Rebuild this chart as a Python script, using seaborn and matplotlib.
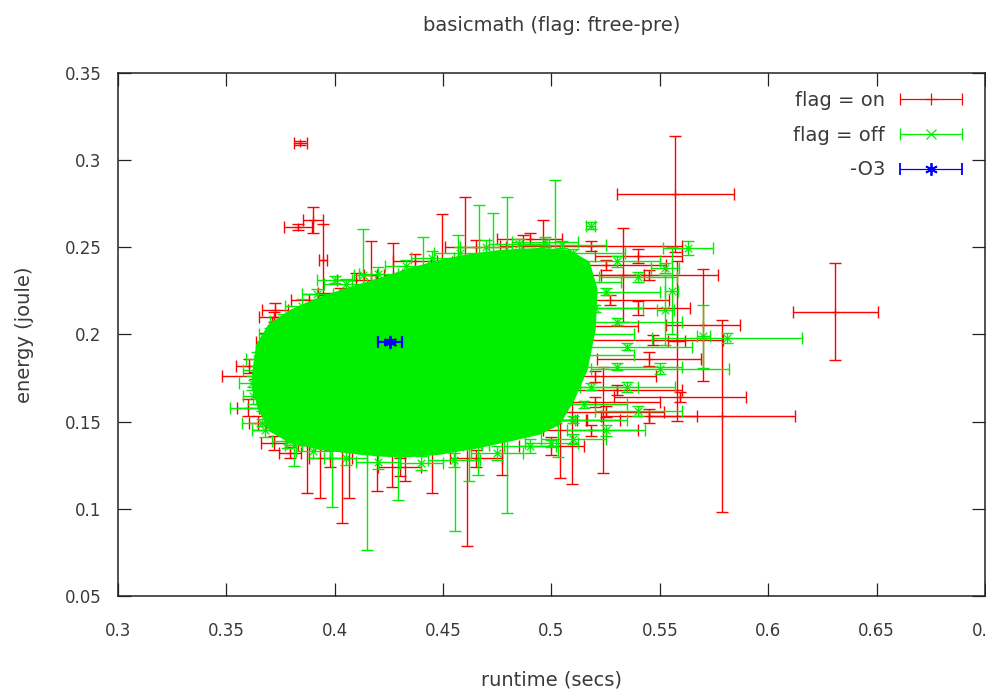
import numpy as np
import pandas as pd
import matplotlib
matplotlib.use("Agg")
import matplotlib.pyplot as plt
import seaborn as sns
from matplotlib.container import ErrorbarContainer
from matplotlib.legend_handler import HandlerErrorbar

# ---------------- data ----------------
title = "basicmath (flag: ftree-pre)"
x_label = "runtime (secs)"
y_label = "energy (joule)"
x_ticks = [0.3, 0.35, 0.4, 0.45, 0.5, 0.55, 0.6, 0.65, 0.7]
x_tick_labels = ["0.3", "0.35", "0.4", "0.45", "0.5", "0.55", "0.6", "0.65", "0.7"]
y_ticks = [0.05, 0.1, 0.15, 0.2, 0.25, 0.3, 0.35]
y_tick_labels = ["0.05", "0.1", "0.15", "0.2", "0.25", "0.3", "0.35"]
series_labels = ["flag = on", "flag = off", "-O3"]

# outline of the dense, fully overlapping cloud of error bars (flag = off on top)
core_runtime = [0.3618, 0.3637, 0.3692, 0.3793, 0.3932, 0.4070, 0.4208, 0.4347,
                0.4485, 0.4624, 0.4762, 0.4947, 0.5084, 0.5176, 0.5213, 0.5204,
                0.5167, 0.5107, 0.5039, 0.4947, 0.4808, 0.4670, 0.4485, 0.4301,
                0.4116, 0.3932, 0.3793, 0.3701, 0.3646, 0.3623]
core_energy = [0.1768, 0.1940, 0.2055, 0.2141, 0.2216, 0.2273, 0.2325, 0.2382,
               0.2428, 0.2462, 0.2485, 0.2497, 0.2485, 0.2417, 0.2257, 0.2027,
               0.1798, 0.1626, 0.1483, 0.1426, 0.1386, 0.1350, 0.1310, 0.1292,
               0.1310, 0.1338, 0.1378, 0.1442, 0.1568, 0.1682]

# flag = on (visible fringe points)
on_runtime = [0.3840, 0.3900, 0.3830, 0.3946, 0.5572, 0.6310, 0.5786, 0.5698,
              0.5450, 0.5184, 0.5592, 0.5470, 0.5578, 0.5300, 0.5250, 0.5200,
              0.5250, 0.5270, 0.4167, 0.4268, 0.4494, 0.4600, 0.4867, 0.4959,
              0.5328, 0.3871, 0.3931, 0.4033, 0.4065, 0.4194, 0.4263, 0.4323,
              0.4448, 0.4610, 0.4771, 0.5039, 0.5094, 0.5237, 0.3632, 0.3839,
              0.3678, 0.3664, 0.3645, 0.3793, 0.4024, 0.3724, 0.5200, 0.5150,
              0.5180,
              0.3720, 0.3880, 0.4100, 0.4370, 0.4650, 0.4900, 0.5400, 0.3600,
              0.3605, 0.3720, 0.3980, 0.4300, 0.4650, 0.5000, 0.5450, 0.5450,
              0.5400]
on_energy = [0.3100, 0.2655, 0.2617, 0.2430, 0.2806, 0.2130, 0.1533, 0.2055,
             0.2342, 0.2509, 0.1642, 0.1968, 0.1964, 0.1683, 0.1557, 0.1614,
             0.2400, 0.2199, 0.2342, 0.2342, 0.2400, 0.2417, 0.2417, 0.2417,
             0.2342, 0.1368, 0.1368, 0.1368, 0.1368, 0.1368, 0.1368, 0.1368,
             0.1368, 0.1397, 0.1454, 0.1512, 0.1512, 0.1512, 0.1764, 0.2068,
             0.1959, 0.1666, 0.1495, 0.1322, 0.2239, 0.2142, 0.1760, 0.2050,
             0.1450,
             0.2100, 0.2200, 0.2310, 0.2420, 0.2500, 0.2545, 0.2450, 0.1580,
             0.1820, 0.1380, 0.1290, 0.1240, 0.1290, 0.1360, 0.1530, 0.1860,
             0.2150]
on_runtime_err = [0.0030, 0.0045, 0.0065, 0.0020, 0.0270, 0.0196, 0.0337, 0.0170,
                  0.0320, 0.0420, 0.0304, 0.0320, 0.0040, 0.0300, 0.0270, 0.0300,
                  0.0280, 0.0270, 0.0030, 0.0040, 0.0050, 0.0060, 0.0050, 0.0060,
                  0.0100, 0.0040, 0.0050, 0.0040, 0.0060, 0.0040, 0.0050, 0.0040,
                  0.0060, 0.0050, 0.0060, 0.0080, 0.0070, 0.0080, 0.0152, 0.0130,
                  0.0040, 0.0030, 0.0040, 0.0050, 0.0100, 0.0060, 0.0280, 0.0250,
                  0.0220,
                  0.0070, 0.0080, 0.0090, 0.0100, 0.0140, 0.0150, 0.0200, 0.0050,
                  0.0060, 0.0060, 0.0100, 0.0100, 0.0120, 0.0150, 0.0220, 0.0240,
                  0.0240]
on_energy_err = [0.0012, 0.0075, 0.0015, 0.0205, 0.0333, 0.0278, 0.0550, 0.0320,
                 0.0030, 0.0030, 0.0030, 0.0030, 0.0460, 0.0030, 0.0030, 0.0030,
                 0.0030, 0.0030, 0.0195, 0.0180, 0.0290, 0.0370, 0.0155, 0.0240,
                 0.0270, 0.0275, 0.0304, 0.0447, 0.0304, 0.0264, 0.0241, 0.0206,
                 0.0275, 0.0613, 0.0258, 0.0338, 0.0372, 0.0304, 0.0020, 0.0020,
                 0.0050, 0.0060, 0.0040, 0.0030, 0.0030, 0.0040, 0.0030, 0.0030,
                 0.0030,
                 0.0030, 0.0030, 0.0040, 0.0040, 0.0040, 0.0040, 0.0040, 0.0050,
                 0.0040, 0.0040, 0.0050, 0.0050, 0.0050, 0.0050, 0.0040, 0.0040,
                 0.0040]

# flag = off (visible fringe points)
off_runtime = [0.4129, 0.4406, 0.4567, 0.4664, 0.4729, 0.4793, 0.5015, 0.5180,
               0.3987, 0.4149, 0.4292, 0.4554, 0.4619, 0.4660, 0.4794, 0.5030,
               0.3810, 0.3664, 0.3678, 0.3664, 0.3700, 0.4000, 0.5810, 0.5700,
               0.5630, 0.5500, 0.5525, 0.5350, 0.5300, 0.5100, 0.5000, 0.5050,
               0.5100, 0.5300, 0.5250, 0.5525, 0.5555, 0.5150, 0.5180, 0.5160,
               0.5200, 0.5120, 0.5140,
               0.3850, 0.3920, 0.4050, 0.4200, 0.4330, 0.4450, 0.4580, 0.4700,
               0.4850, 0.4970, 0.5300, 0.5400, 0.5350, 0.5400, 0.5250, 0.5100,
               0.4900, 0.4750, 0.4550, 0.4400, 0.4200, 0.4050, 0.3900, 0.3780,
               0.3680, 0.3625, 0.3620, 0.3640, 0.3700, 0.3760]
off_energy = [0.2342, 0.2342, 0.2400, 0.2417, 0.2417, 0.2417, 0.2417, 0.2623,
              0.1368, 0.1368, 0.1368, 0.1368, 0.1368, 0.1368, 0.1454, 0.1512,
              0.1368, 0.1580, 0.1798, 0.1495, 0.1913, 0.2314, 0.1980, 0.1990,
              0.2497, 0.1804, 0.2383, 0.1929, 0.1815, 0.1510, 0.1375, 0.2514,
              0.2468, 0.2072, 0.2245, 0.2142, 0.2250, 0.1600, 0.1700, 0.2000,
              0.2150, 0.2300, 0.1880,
              0.2165, 0.2230, 0.2290, 0.2345, 0.2395, 0.2440, 0.2470, 0.2500,
              0.2520, 0.2530, 0.2420, 0.2330, 0.1700, 0.1560, 0.1450, 0.1400,
              0.1360, 0.1320, 0.1280, 0.1265, 0.1270, 0.1290, 0.1330, 0.1390,
              0.1450, 0.1650, 0.1720, 0.1860, 0.2000, 0.2080]
off_runtime_err = [0.0040, 0.0050, 0.0050, 0.0060, 0.0050, 0.0060, 0.0060, 0.0020,
                   0.0050, 0.0060, 0.0050, 0.0040, 0.0060, 0.0050, 0.0060, 0.0080,
                   0.0040, 0.0148, 0.0100, 0.0090, 0.0060, 0.0080, 0.0346, 0.0030,
                   0.0115, 0.0320, 0.0065, 0.0300, 0.0300, 0.0250, 0.0120, 0.0200,
                   0.0240, 0.0300, 0.0250, 0.0040, 0.0030, 0.0200, 0.0220, 0.0220,
                   0.0220, 0.0200, 0.0240,
                   0.0080, 0.0070, 0.0100, 0.0090, 0.0100, 0.0100, 0.0120, 0.0120,
                   0.0140, 0.0150, 0.0200, 0.0180, 0.0220, 0.0200, 0.0180, 0.0150,
                   0.0120, 0.0120, 0.0120, 0.0100, 0.0100, 0.0100, 0.0080, 0.0070,
                   0.0060, 0.0050, 0.0060, 0.0050, 0.0050, 0.0060]
off_energy_err = [0.0264, 0.0218, 0.0172, 0.0327, 0.0281, 0.0372, 0.0470, 0.0020,
                  0.0355, 0.0607, 0.0315, 0.0493, 0.0206, 0.0172, 0.0476, 0.0212,
                  0.0120, 0.0020, 0.0030, 0.0020, 0.0040, 0.0020, 0.0030, 0.0180,
                  0.0040, 0.0030, 0.0030, 0.0020, 0.0020, 0.0020, 0.0020, 0.0020,
                  0.0020, 0.0020, 0.0020, 0.0200, 0.0250, 0.0020, 0.0020, 0.0020,
                  0.0020, 0.0020, 0.0020,
                  0.0040, 0.0030, 0.0030, 0.0040, 0.0030, 0.0040, 0.0030, 0.0040,
                  0.0030, 0.0030, 0.0030, 0.0030, 0.0030, 0.0030, 0.0030, 0.0030,
                  0.0040, 0.0040, 0.0040, 0.0040, 0.0040, 0.0040, 0.0040, 0.0040,
                  0.0040, 0.0050, 0.0040, 0.0040, 0.0040, 0.0040]

# -O3 reference point
o3_runtime = [0.4255]
o3_energy = [0.1958]
o3_runtime_err = [0.0057]
o3_energy_err = [0.0010]

# ---------------- styling ----------------
RED = "#ff0000"
GREEN = "#00ee00"
BLUE = "#0000ff"
TXT = "#3a3a3a"

sns.set_style("ticks")
plt.rcParams["font.family"] = ["DejaVu Sans"]

fig = plt.figure(figsize=(9.87, 6.97), dpi=100)
ax = fig.add_axes([118 / 987, 1 - 596 / 697, (985 - 118) / 987, (596 - 73) / 697])

eb_kw = dict(fmt="none", elinewidth=1.0, capsize=4.5, capthick=1.0)

df_on = pd.DataFrame({"runtime": on_runtime, "energy": on_energy})
df_off = pd.DataFrame({"runtime": off_runtime, "energy": off_energy})
df_o3 = pd.DataFrame({"runtime": o3_runtime, "energy": o3_energy})

# flag = on (drawn first, lies beneath)
ax.errorbar(on_runtime, on_energy, xerr=on_runtime_err, yerr=on_energy_err,
            ecolor=RED, zorder=2, **eb_kw)
sns.scatterplot(data=df_on, x="runtime", y="energy", marker="+", s=40,
                color=RED, edgecolor=RED, linewidth=0.9, zorder=2.5, ax=ax, legend=False)

# dense flag = off cloud
ax.fill(core_runtime, core_energy, color=GREEN, linewidth=0, zorder=3)

# flag = off fringe
ax.errorbar(off_runtime, off_energy, xerr=off_runtime_err, yerr=off_energy_err,
            ecolor=GREEN, zorder=4, **eb_kw)
sns.scatterplot(data=df_off, x="runtime", y="energy", marker="x", s=30,
                color=GREEN, edgecolor=GREEN, linewidth=0.9, zorder=4.5, ax=ax, legend=False)

# -O3
ax.errorbar(o3_runtime, o3_energy, xerr=o3_runtime_err, yerr=o3_energy_err,
            ecolor=BLUE, zorder=6, fmt="none", elinewidth=1.6, capsize=4.5, capthick=1.6)
sns.scatterplot(data=df_o3, x="runtime", y="energy", marker=(6, 2, 0), s=70,
                color=BLUE, edgecolor=BLUE, linewidth=1.4, zorder=6.5, ax=ax, legend=False)

# axes
ax.set_xlim(0.3, 0.7)
ax.set_ylim(0.05, 0.35)
ax.set_xticks(x_ticks)
ax.set_xticklabels(x_tick_labels)
ax.set_yticks(y_ticks)
ax.set_yticklabels(y_tick_labels)
ax.tick_params(axis="both", direction="in", length=9.5, width=0.9, color="#222222",
               top=True, right=True, labelsize=12, labelcolor=TXT)
ax.tick_params(axis="x", pad=19)
ax.tick_params(axis="y", pad=12)
for sp in ax.spines.values():
    sp.set_visible(True)
    sp.set_linewidth(1.1)
    sp.set_color("#222222")

ax.set_xlabel(x_label, fontsize=14, color=TXT, labelpad=22)
ax.set_ylabel(y_label, fontsize=14, color=TXT, labelpad=22)
ax.set_title(title, fontsize=14, color=TXT, pad=30)

# legend with error-bar samples
h_on = ax.errorbar([np.nan], [np.nan], xerr=[0.01], fmt="+", color=RED, ms=9, mew=0.9,
                   elinewidth=0.9, capsize=4.5, capthick=0.9)
h_off = ax.errorbar([np.nan], [np.nan], xerr=[0.01], fmt="x", color=GREEN, ms=7, mew=0.9,
                    elinewidth=0.9, capsize=4.5, capthick=0.9)
h_o3 = ax.errorbar([np.nan], [np.nan], xerr=[0.01], fmt="*", marker=(6, 2, 0), color=BLUE,
                   ms=9, mew=1.3, elinewidth=0.9, capsize=4.5, capthick=0.9)
leg = ax.legend([h_on, h_off, h_o3], series_labels, loc="upper right",
                bbox_to_anchor=(0.9735, 0.965), borderaxespad=0, borderpad=0,
                frameon=False, markerfirst=False, fontsize=14, labelspacing=0.8,
                handletextpad=0.75, handlelength=3.2,
                handler_map={ErrorbarContainer: HandlerErrorbar(xerr_size=1.6, numpoints=1)})
for t in leg.get_texts():
    t.set_color(TXT)

fig.savefig("out.png", dpi=100)
